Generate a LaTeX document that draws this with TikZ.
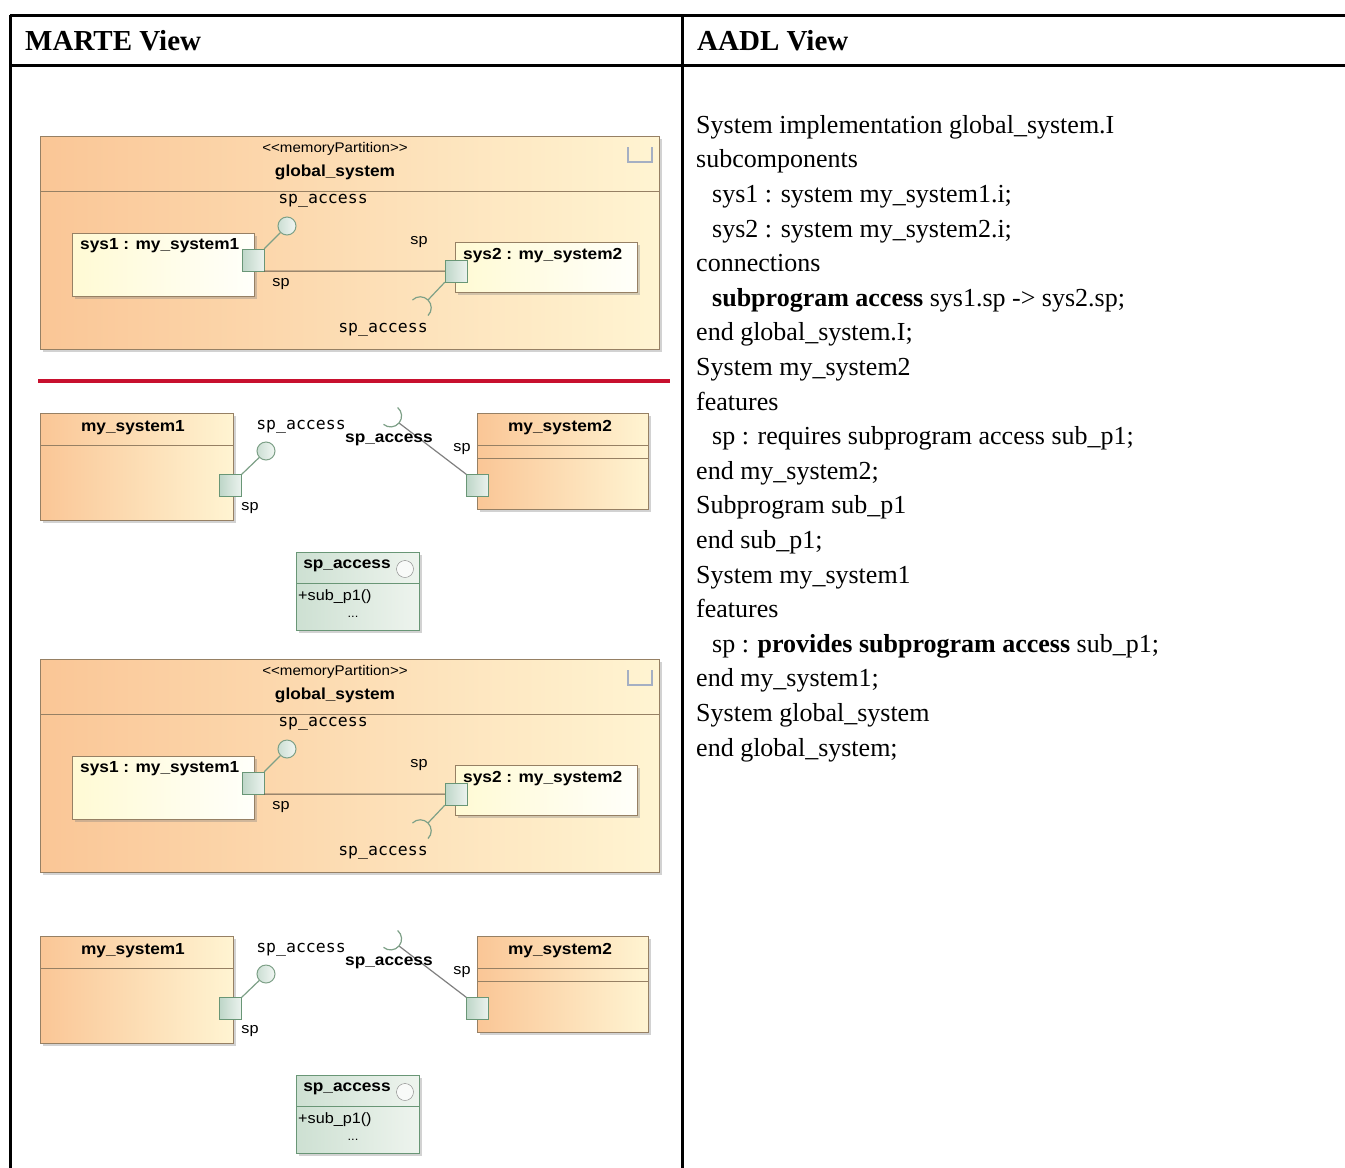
\documentclass[tikz,border=0pt]{standalone}
\usepackage{fontspec}
\setmainfont{Liberation Serif}
\newfontfamily\umlfont[FakeStretch=1.08]{Liberation Sans}
\newfontfamily\portfont{DejaVu Sans Mono}
\usetikzlibrary{positioning, shadows}

\definecolor{partleft}{RGB}{250,198,150}
\definecolor{partright}{RGB}{255,244,210}
\definecolor{partborder}{RGB}{150,128,100}
\definecolor{instleft}{RGB}{255,250,212}
\definecolor{instright}{RGB}{255,255,250}
\definecolor{portfill}{RGB}{190,214,200}
\definecolor{portborder}{RGB}{105,150,118}
\definecolor{ifaceleft}{RGB}{205,224,210}
\definecolor{ifaceright}{RGB}{238,244,238}
\definecolor{connline}{RGB}{100,90,75}
\definecolor{stickline}{RGB}{125,160,135}
\definecolor{redrule}{RGB}{200,16,46}
\definecolor{iconcolor}{RGB}{165,175,195}

\newlength{\shd}
\setlength{\shd}{3pt}

\tikzset{tableline/.style={line width=3pt, black}}
\tikzset{partbox/.style={draw=partborder, left color=partleft, right color=partright, anchor=north west, inner sep=0pt, drop shadow={shadow xshift=\shd, shadow yshift=-\shd, opacity=0.35}}}
\tikzset{instbox/.style={draw=partborder, left color=instleft, right color=instright, anchor=north west, inner sep=0pt, drop shadow={shadow xshift=\shd, shadow yshift=-\shd, opacity=0.35}}}
\tikzset{ifacebox/.style={draw=portborder, left color=ifaceleft, right color=ifaceright, anchor=north west, inner sep=0pt, drop shadow={shadow xshift=\shd, shadow yshift=-\shd, opacity=0.35}}}
\tikzset{port/.style={draw=portborder, left color=portfill, right color=portfill!30, minimum size=22pt, inner sep=0pt}}
\tikzset{lolli/.style={circle, draw=stickline, line width=1pt, left color=portfill!80, right color=portfill!20, minimum size=18pt, inner sep=0pt}}
\tikzset{ifacecirc/.style={circle, draw=gray, fill=white!85!ifaceleft, minimum size=17pt, inner sep=0pt}}
\tikzset{sepline/.style={draw=partborder, line width=0.8pt}}
\tikzset{stick/.style={draw=stickline, line width=1.2pt}}
\tikzset{umlbold/.style={font=\umlfont\bfseries\fontsize{16}{18}\selectfont, inner sep=0pt}}
\tikzset{umlsmall/.style={font=\umlfont\fontsize{15}{17}\selectfont, inner sep=0pt}}
\tikzset{stereo/.style={font=\umlfont\fontsize{14}{16}\selectfont, inner sep=0pt}}
\tikzset{portlbl/.style={font=\portfont\fontsize{16.5}{18}\selectfont, inner sep=0pt}}
\tikzset{headtext/.style={font=\bfseries\fontsize{29}{32}\selectfont, inner sep=0pt}}
\tikzset{aadltext/.style={font=\fontsize{26}{34.6}\selectfont, align=left, inner sep=0pt}}

\begin{document}
\begin{tikzpicture}[x=1pt, y=-1pt]

	\fill[white] (0,0) rectangle (1345,1168);
	\useasboundingbox (0,0) rectangle (1345,1168);

	%%% TABLE %%%
	\draw[tableline] (10,15) -- (1345,15);
	\draw[tableline] (10,65) -- (1345,65);
	\draw[tableline] (10,15) -- (10,1168);
	\draw[tableline] (682,15) -- (682,1168);
	\node[headtext, anchor=base west] (martehead) at (25,50) {MARTE View};
	\node[headtext, anchor=base west] (aadlhead) at (697,50) {AADL View};

	% RED SEPARATOR
	\draw[draw=redrule, line width=3.5pt] (38,381) -- (670,381);

	%%% MARTE PANELS %%%
	\foreach \off/\k in {0/a, 523/b}{
	\begin{scope}[shift={(0,\off)}]

		% GLOBAL SYSTEM (instance level)
		\node[partbox, minimum width=619pt, minimum height=213pt] (gsys\k) at (40,136) {};
		\draw[sepline] ([yshift=-55pt]gsys\k.north west) -- ([yshift=-55pt]gsys\k.north east);
		\draw[draw=iconcolor, line width=2pt] (628,147) -- (628,162) -- (652,162) -- (652,147);
		\node[stereo] (stereo\k) at (335,149) {<{}<memoryPartition>{}>};
		\node[umlbold] (gname\k) at (335,172) {global\_system};
		\node[portlbl] (accup\k) at (323,201) {sp\_access};
		\node[portlbl] (accdown\k) at (383,330) {sp\_access};

		\node[instbox, minimum width=182pt, minimum height=63pt] (sys1\k) at (72,233) {};
		\node[umlbold, anchor=west] (sys1lbl\k) at (80,246) {sys1 : my\_system1};
		\node[instbox, minimum width=182pt, minimum height=50pt] (sys2\k) at (455,242) {};
		\node[umlbold, anchor=west] (sys2lbl\k) at (463,256) {sys2 : my\_system2};

		\node[lolli] (lol\k) at (287,226) {};
		\node[port] (p1\k) at (253,260) {};
		\draw[stick] (lol\k) -- (p1\k.north east);
		\coordinate (sock\k) at (428,300);
		\node[port] (p2\k) at (456,271) {};
		\draw[draw=connline, line width=1pt] (p1\k.south east) -- (p2\k.west);
		\draw[stick] (p2\k.south west) -- (sock\k);
		\draw[stick] (sock\k) ++(225:11pt) ++(-45:11pt) arc[start angle=-45, end angle=135, radius=11pt];
		\node[umlsmall] (sp1\k) at (281,284) {sp};
		\node[umlsmall] (sp2\k) at (419,242) {sp};

		% COMPONENT TYPES (class level)
		\node[partbox, minimum width=193pt, minimum height=107pt] (ms1\k) at (40,413) {};
		\draw[sepline] ([yshift=-32pt]ms1\k.north west) -- ([yshift=-32pt]ms1\k.north east);
		\node[umlbold] (ms1lbl\k) at (133,428) {my\_system1};
		\node[partbox, minimum width=171pt, minimum height=96pt] (ms2\k) at (477,413) {};
		\draw[sepline] ([yshift=-32pt]ms2\k.north west) -- ([yshift=-32pt]ms2\k.north east);
		\draw[sepline] ([yshift=-45pt]ms2\k.north west) -- ([yshift=-45pt]ms2\k.north east);
		\node[umlbold] (ms2lbl\k) at (560,428) {my\_system2};

		\node[lolli] (clol\k) at (266,451) {};
		\node[port] (cp1\k) at (230.5,485.5) {};
		\draw[stick] (clol\k) -- (cp1\k.north east);
		\node[portlbl] (caccl\k) at (301,427) {sp\_access};
		\node[umlsmall] (csp1\k) at (250,508) {sp};

		\coordinate (csock\k) at (399,423);
		\node[port] (cp2\k) at (477.5,485.5) {};
		\draw[draw=gray, line width=1.2pt] (cp2\k.north west) -- (csock\k);
		\draw[draw=stickline, line width=1.2pt] (csock\k) ++(140:11pt) ++(50:11pt) arc[start angle=50, end angle=-130, radius=11pt];
		\node[umlbold, anchor=west] (caccr\k) at (345,440) {sp\_access};
		\node[umlsmall] (csp2\k) at (462,449) {sp};

		% INTERFACE
		\node[ifacebox, minimum width=123pt, minimum height=78pt] (iface\k) at (296,552) {};
		\draw[draw=portborder, line width=0.8pt] ([yshift=-31pt]iface\k.north west) -- ([yshift=-31pt]iface\k.north east);
		\node[umlbold] (ifacelbl\k) at (347,566) {sp\_access};
		\node[ifacecirc] (ifaceicon\k) at (405,569) {};
		\node[umlsmall, anchor=west] (ifaceop\k) at (298,597) {+sub\_p1()};
		\node[font=\umlfont\fontsize{12}{14}\selectfont, inner sep=0pt] (ifacedots\k) at (353,617) {...};

	\end{scope}
	}

	%%% AADL TEXT %%%
	\node[aadltext, anchor=north west] (aadl) at (696,115) {%
		System implementation global\_system.I\\
		subcomponents\\
		\hspace*{16pt}sys1 : system my\_system1.i;\\
		\hspace*{16pt}sys2 : system my\_system2.i;\\
		connections\\
		\hspace*{16pt}\textbf{subprogram access} sys1.sp -> sys2.sp;\\
		end global\_system.I;\\
		System my\_system2\\
		features\\
		\hspace*{16pt}sp : requires subprogram access sub\_p1;\\
		end my\_system2;\\
		Subprogram sub\_p1\\
		end sub\_p1;\\
		System my\_system1\\
		features\\
		\hspace*{16pt}sp : \textbf{provides subprogram access} sub\_p1;\\
		end my\_system1;\\
		System global\_system\\
		end global\_system;};

\end{tikzpicture}
\end{document}
